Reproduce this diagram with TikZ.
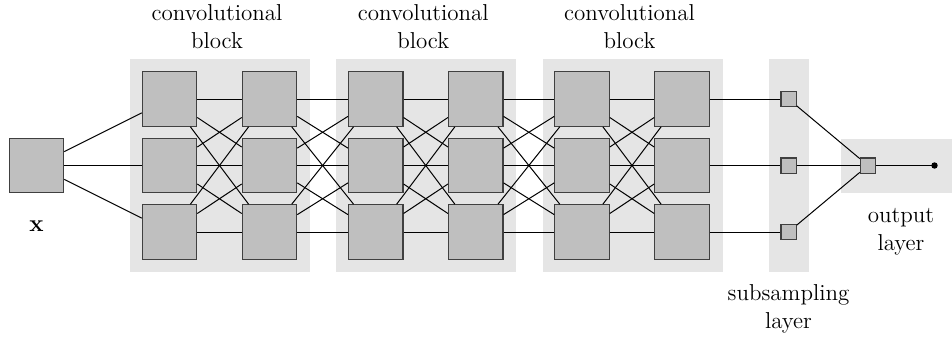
\documentclass[tikz,border=0pt]{standalone}
\usetikzlibrary{positioning}

\tikzset{
	unit/.style = {draw = black!75, fill = black!25, line width = 0.6pt, minimum size = 27.2pt, inner sep = 0pt},
	pool/.style = {draw = black!75, fill = black!25, line width = 0.6pt, minimum size = 7.6pt, inner sep = 0pt},
	panel/.style = {fill = black!10, draw = none},
	caption/.style = {align = center, font = \fontsize{11.5}{13.9}\selectfont, inner sep = 0pt},
	wire/.style = {line width = 0.5pt}
}

\begin{document}
\begin{tikzpicture}[x = 0.5pt, y = -0.5pt]
	\useasboundingbox (0, 0) rectangle (952, 338);

	% panels
	\foreach \b in {0, 1, 2} {
		\fill[panel] (130 + 206.25*\b, 59) rectangle (310 + 206.25*\b, 272);
	}
	\fill[panel] (769, 59) rectangle (809, 272);
	\fill[panel] (841, 139) rectangle (952, 193);

	% input
	\node[unit] (x) at (36.5, 165.5) {};

	% convolutional blocks
	\foreach \b in {0, 1, 2} {
		\foreach \c in {0, 1} {
			\foreach \r/\y in {0/99, 1/165.5, 2/232} {
				\node[unit] (u\b\c\r) at (169.5 + 206.25*\b + 100*\c, \y) {};
			}
		}
	}

	% subsampling and output
	\node[pool] (s0) at (788.5, 99) {};
	\node[pool] (s1) at (788.5, 165.5) {};
	\node[pool] (s2) at (788.5, 232) {};
	\node[pool] (o) at (868, 165.5) {};
	\fill (934.5, 165.5) circle (1.6pt) coordinate (y);

	% wires
	\foreach \r in {0, 1, 2} {
		\draw[wire] (x) -- (u00\r);
		\draw[wire] (u21\r) -- (s\r);
		\draw[wire] (s\r) -- (o);
		\foreach \s in {0, 1, 2} {
			\draw[wire] (u00\r) -- (u01\s);
			\draw[wire] (u01\r) -- (u10\s);
			\draw[wire] (u10\r) -- (u11\s);
			\draw[wire] (u11\r) -- (u20\s);
			\draw[wire] (u20\r) -- (u21\s);
		}
	}
	\draw[wire] (o) -- (y);

	% labels
	\foreach \b in {0, 1, 2} {
		\node[caption] (c\b) at (217 + 206.25*\b, 27) {convolutional\\block};
	}
	\node[caption] (xl) at (36.5, 226.5) {$\mathbf{x}$};
	\node[caption] (sl) at (788.5, 309) {subsampling\\layer};
	\node[caption] (ol) at (901, 231.5) {output\\layer};
\end{tikzpicture}
\end{document}
